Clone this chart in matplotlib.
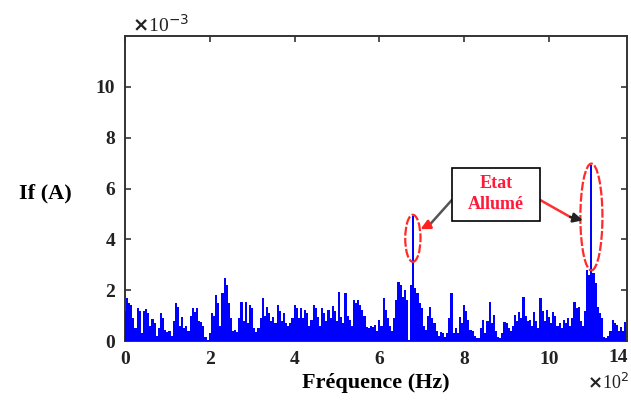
import matplotlib.pyplot as plt
from matplotlib.patches import Ellipse, Rectangle

# spectrum amplitude (x1e-3 A), one value every 5 Hz starting at 0 Hz
freq_step = 0.05  # in units of 100 Hz
amplitude = [
    1.2, 1.7, 1.5, 1.4, 0.9, 0.5, 1.3, 1.2, 0.3, 1.2,
    1.25, 1.1, 0.6, 0.85, 0.7, 0.2, 0.5, 1.1, 0.9, 0.45,
    0.35, 0.4, 0.2, 0.8, 1.5, 1.35, 0.6, 0.95, 0.5, 0.6,
    0.4, 1.0, 1.3, 1.15, 1.3, 0.8, 0.75, 0.6, 0.15, 0.05,
    0.3, 1.1, 1.0, 1.8, 1.5, 0.6, 1.9, 2.47, 2.2, 1.5,
    0.9, 0.4, 0.45, 0.35, 0.9, 1.55, 0.8, 1.55, 0.7, 1.42,
    1.3, 0.5, 0.35, 0.5, 0.9, 1.68, 1.0, 1.35, 1.1, 0.8,
    0.96, 0.7, 1.42, 1.2, 0.8, 1.1, 0.7, 0.6, 0.7, 0.9,
    1.42, 1.3, 0.9, 1.28, 0.9, 1.22, 1.1, 0.6, 0.83, 1.42,
    1.3, 0.96, 0.6, 1.28, 1.1, 0.8, 1.22, 0.9, 1.38, 1.2,
    0.8, 1.94, 0.96, 0.7, 1.88, 1.0, 0.83, 0.6, 1.62, 1.5,
    1.62, 1.4, 1.22, 1.0, 0.57, 0.5, 0.6, 0.55, 0.63, 0.4,
    0.83, 0.6, 1.68, 1.22, 0.9, 0.6, 0.4, 0.9, 1.61, 2.33,
    2.2, 1.74, 2.0, 1.6, 0.05, 2.2, 4.9, 2.07, 1.9, 1.5,
    1.3, 0.6, 0.43, 1.0, 1.35, 0.9, 0.7, 0.4, 0.2, 0.37,
    0.3, 0.15, 0.3, 0.9, 1.88, 0.3, 0.5, 0.3, 0.96, 0.7,
    1.42, 1.2, 0.83, 0.43, 0.4, 0.2, 0.1, 0.1, 0.5, 0.83,
    0.3, 0.8, 1.55, 0.7, 1.03, 0.4, 0.17, 0.1, 0.3, 0.76,
    0.7, 0.5, 0.4, 0.6, 1.03, 0.8, 1.15, 0.9, 1.75, 1.0,
    0.8, 0.83, 0.6, 1.15, 0.8, 0.5, 1.68, 1.2, 0.8, 1.22,
    0.96, 0.7, 1.15, 1.0, 0.6, 0.7, 0.5, 0.83, 0.7, 0.9,
    0.6, 0.9, 1.55, 1.3, 1.35, 0.8, 0.6, 1.2, 2.8, 2.6,
    6.93, 2.67, 2.3, 1.35, 1.09, 0.9, 0.17, 0.1, 0.2, 0.4,
    0.83, 0.7, 0.63, 0.4, 0.57, 0.4, 0.76,
]
freq = [i * freq_step for i in range(len(amplitude))]

xticks = [0, 2, 4, 6, 8, 10]
yticks = [0, 2, 4, 6, 8, 10]

serif = ['Liberation Serif', 'DejaVu Serif']
ink = '#222222'

fig = plt.figure(figsize=(6.31, 4.12), dpi=100)
ax = fig.add_axes([0.198, 0.1723, 0.7957, 0.7403])

ax.bar(freq, amplitude, width=freq_step, color='#0000ff', edgecolor='none',
       align='center', zorder=3)

ax.set_xlim(0, 11.84)
ax.set_ylim(0, 12)
ax.set_xticks(xticks)
ax.set_yticks(yticks)
ax.set_xticklabels([str(t) for t in xticks], family=serif, weight='bold',
                   fontsize=14, color=ink)
ax.set_yticklabels([str(t) for t in yticks], family=serif, weight='bold',
                   fontsize=14, color=ink)
ax.tick_params(direction='in', length=4, width=1.2, color='#333333', pad=7,
               top=True, right=True)
for s in ax.spines.values():
    s.set_color('#333333')
    s.set_linewidth(1.4)

# last x label and the exponent markers
ax.text(11.63, -0.053, '14', transform=ax.get_xaxis_transform(),
        ha='center', va='center', family=serif, weight='bold', fontsize=14,
        color=ink)
fig.text(132 / 631, 1 - 25 / 412, r'$\mathbf{\times}$10$^{-3}$',
         ha='left', va='center', fontsize=14, family=serif, color=ink)
fig.text(629 / 631, 1 - 383 / 412, r'$\mathbf{\times}$10$^{2}$',
         ha='right', va='center', fontsize=13, family=serif, color=ink)

fig.text(376 / 631, 1 - 383 / 412, 'Fréquence (Hz)', ha='center',
         va='center', fontsize=16, weight='bold', family=serif, color='black')
fig.text(45 / 631, 1 - 193 / 412, 'If (A)', ha='center', va='center',
         fontsize=16, weight='bold', family=serif, color='black')

# red ellipses around the two peaks
for cx, cy, w, h in [(6.79, 4.04, 0.36, 1.85), (11.0, 4.88, 0.52, 4.2)]:
    ax.add_patch(Ellipse((cx, cy), w, h, fill=False, edgecolor='#ff2a2a',
                         linewidth=1.6, linestyle=(0, (4, 1)), zorder=4))

# label box and arrows
ax.add_patch(Rectangle((7.71, 4.72), 2.08, 2.09, facecolor='white',
                       edgecolor='black', linewidth=1.2, zorder=5))
ax.text(8.75, 5.77, 'Etat\nAllumé', ha='center', va='center', fontsize=13,
        weight='bold', family=serif, color='#ff1a3a', linespacing=1.3,
        zorder=6)
ax.annotate('', xy=(7.2, 4.6), xytext=(7.71, 5.55),
            arrowprops=dict(arrowstyle='-', color='#555555', lw=1.8,
                            shrinkA=0, shrinkB=0), zorder=4)
ax.annotate('', xy=(6.97, 4.4), xytext=(7.2, 4.6),
            arrowprops=dict(arrowstyle='-|>', color='#ff2020', lw=1.8,
                            mutation_scale=14, shrinkA=0, shrinkB=0), zorder=4)
ax.annotate('', xy=(10.5, 4.88), xytext=(9.79, 5.55),
            arrowprops=dict(arrowstyle='-', color='#ff3030', lw=1.8,
                            shrinkA=0, shrinkB=0), zorder=4)
ax.annotate('', xy=(10.8, 4.75), xytext=(10.5, 4.88),
            arrowprops=dict(arrowstyle='-|>', color='#222222', lw=1.8,
                            mutation_scale=14, shrinkA=0, shrinkB=0), zorder=4)

fig.savefig('out.png', dpi=100)
